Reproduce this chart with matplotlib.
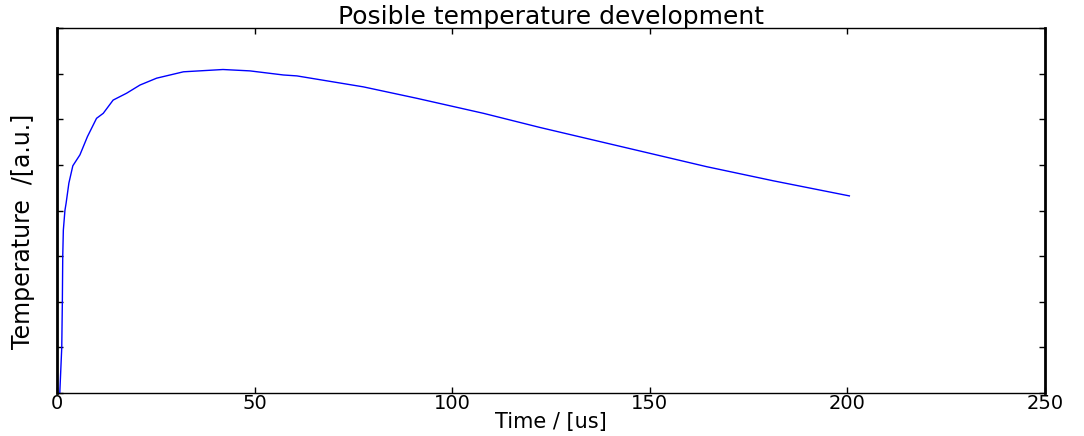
"""Plot of a possible temperature development over time"""

from typing import List

import matplotlib

matplotlib.use("Agg")
import matplotlib.pyplot as plt

FILE_NAME = "out.png"

# time samples in us
time_us: List[float] = [
    0.7, 1.2, 1.35, 1.45, 1.6, 2.0, 2.3, 3.0, 4.0, 5.8, 7.7, 10.0, 11.7,
    14.2, 17.6, 21.0, 25.2, 32.0, 42.0, 48.8, 57.3, 60.7, 77.5, 91.0,
    107.9, 122.2, 143.3, 164.4, 181.3, 200.5,
]

# temperature in arbitrary units
temperature_au: List[float] = [
    0.0, 1.0, 2.0, 3.0, 3.57, 4.0, 4.16, 4.6, 4.98, 5.22, 5.62, 6.02, 6.13,
    6.42, 6.57, 6.75, 6.90, 7.04, 7.09, 7.06, 6.97, 6.95, 6.71, 6.46,
    6.13, 5.82, 5.39, 4.96, 4.65, 4.32,
]

x_ticks: List[int] = [0, 50, 100, 150, 200, 250]
y_ticks: List[int] = [0, 1, 2, 3, 4, 5, 6, 7, 8]


def plot_temperature() -> None:
    """Draw the temperature curve in a matlab like frame and save it."""

    fig = plt.figure(figsize=(10.84, 4.36), dpi=100)
    ax = fig.add_axes([0.0526, 0.0986, 0.9114, 0.8372])

    ax.plot(time_us, temperature_au, color="#0000ff", linewidth=1.0)

    ax.set_xlim(x_ticks[0], x_ticks[-1])
    ax.set_ylim(y_ticks[0], y_ticks[-1])

    # ticks point inwards on all four sides, y axis has no labels
    ax.set_xticks(x_ticks)
    ax.set_yticks(y_ticks)
    ax.set_yticklabels([])
    ax.tick_params(
        direction="in", length=4, width=1.0, top=True, right=True,
        labelsize=14, pad=1,
    )

    # left and right borders are heavier than top and bottom
    for side in ("left", "right"):
        ax.spines[side].set_linewidth(2.0)
    for side in ("top", "bottom"):
        ax.spines[side].set_linewidth(1.0)

    ax.set_title("Posible temperature development", fontsize=18, pad=3)
    ax.set_xlabel("Time / [us]", fontsize=15, labelpad=-1)
    ax.set_ylabel("Temperature  /[a.u.]", fontsize=17)
    # label sits a bit below the axes middle in the original
    ax.yaxis.set_label_coords(-0.0223, 0.444)

    fig.savefig(FILE_NAME, dpi=100)
    plt.close(fig)


if __name__ == "__main__":
    plot_temperature()
